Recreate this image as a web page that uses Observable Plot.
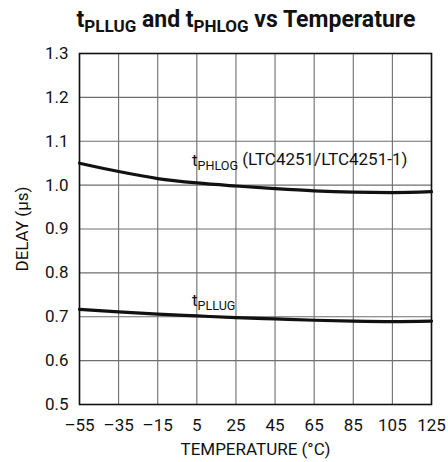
<!DOCTYPE html>
<html>
<head>
<meta charset="utf-8">
<script src="https://cdn.jsdelivr.net/npm/d3@7"></script>
<script src="https://cdn.jsdelivr.net/npm/@observablehq/plot@0.6"></script>
<style>
  html, body { margin: 0; padding: 0; background: #fff; }
  body { width: 448px; height: 462px; overflow: hidden; font-family: Roboto, "Liberation Sans", sans-serif; }
  .title { height: 40px; box-sizing: border-box; padding-left: 44px; padding-top: 8px; text-align: center; font-weight: bold; font-size: 23px; line-height: 24px; color: #111; white-space: nowrap; }
  .title sub { font-size: 0.74em; vertical-align: -0.3em; line-height: 0; }
  svg { display: block; }
</style>
</head>
<body>
<div class="title">t<sub>PLLUG</sub> and t<sub>PHLOG</sub> vs Temperature</div>
<div id="chart"></div>
<script>
const temps = [-55, -35, -15, 5, 25, 45, 65, 85, 105, 125];
const phlog = [1.050, 1.031, 1.015, 1.005, 0.998, 0.992, 0.987, 0.984, 0.983, 0.985];
const pllug = [0.717, 0.711, 0.706, 0.702, 0.698, 0.695, 0.692, 0.690, 0.689, 0.690];
const xTicks = [-55, -35, -15, 5, 25, 45, 65, 85, 105, 125];
const yTicks = [0.5, 0.6, 0.7, 0.8, 0.9, 1.0, 1.1, 1.2, 1.3];
const labelX = [2.5, 2.5];
const labelY = [1.055, 0.736];
const labelMain = ["t", "t"];
const labelSub = ["PHLOG", "PLLUG"];
const labelTail = [" (LTC4251/LTC4251-1)", ""];

const phlogData = temps.map((t, i) => ({t, v: phlog[i]}));
const pllugData = temps.map((t, i) => ({t, v: pllug[i]}));
const labels = labelX.map((x, i) => ({x, y: labelY[i], text: labelMain[i] + labelSub[i] + labelTail[i], i}));

const fontFam = 'Roboto, "Liberation Sans", sans-serif';

const chart = Plot.plot({
  width: 448,
  height: 422,
  marginTop: 13,
  marginLeft: 79,
  marginRight: 17,
  marginBottom: 58,
  style: {fontFamily: fontFam, fontSize: "17px", color: "#111", background: "#fff"},
  x: {domain: [-55, 125]},
  y: {domain: [0.5, 1.3]},
  marks: [
    Plot.ruleX(xTicks, {stroke: "#6e6e6e", strokeWidth: 1.1}),
    Plot.ruleY(yTicks, {stroke: "#6e6e6e", strokeWidth: 1.1}),
    Plot.frame({stroke: "#111", strokeWidth: 1.6}),
    Plot.line(phlogData, {x: "t", y: "v", stroke: "#111", strokeWidth: 3.2, curve: "monotone-x"}),
    Plot.line(pllugData, {x: "t", y: "v", stroke: "#111", strokeWidth: 3.2, curve: "monotone-x"}),
    Plot.text(labels, {x: "x", y: "y", text: "text", textAnchor: "start", lineAnchor: "middle", fill: "#111", fontSize: 17, className: "sublabel"}),
    Plot.axisX({ticks: xTicks, tickSize: 0, tickPadding: 14, tickFormat: d => d < 0 ? "\u2013" + (-d) : String(d), label: "TEMPERATURE (°C)", labelAnchor: "center", labelArrow: "none", labelOffset: 50}),
    Plot.axisY({ticks: yTicks, tickSize: 0, tickPadding: 11, tickFormat: d3.format(".1f"), label: "DELAY (µs)", labelAnchor: "center", labelArrow: "none", labelOffset: 64})
  ]
});
document.getElementById("chart").appendChild(chart);

// turn label texts into t + subscript + tail
d3.select(chart).selectAll("g.sublabel text").each(function() {
  const el = d3.select(this);
  const i = labels.findIndex(l => l.text === el.text());
  if (i < 0) return;
  el.text(null);
  el.append("tspan").text(labelMain[i]);
  el.append("tspan").attr("font-size", "0.74em").attr("dy", "0.3em").text(labelSub[i]);
  if (labelTail[i]) el.append("tspan").attr("dy", "-0.3em").text(labelTail[i]);
});
</script>
</body>
</html>
